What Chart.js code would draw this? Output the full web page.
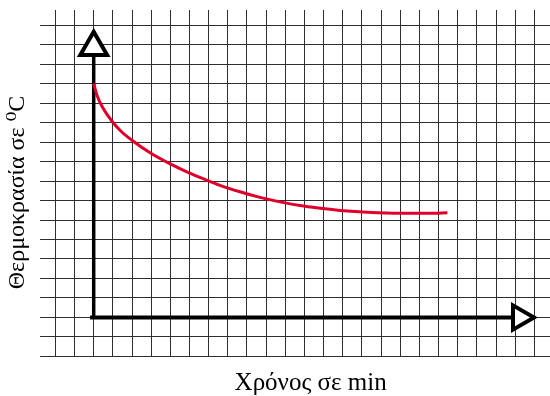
<!DOCTYPE html>
<html>
<head>
<meta charset="utf-8">
<script src="https://cdn.jsdelivr.net/npm/chart.js@4"></script>
<style>
  html, body { margin: 0; padding: 0; background: #ffffff; }
  #wrap { width: 550px; height: 396px; }
</style>
</head>
<body>
<div id="wrap"><canvas id="c" width="550" height="396"></canvas></div>
<script>
// Curve (in grid units: 1 unit = one grid square)
const timeValues = [0, 0.17, 0.485, 1.007, 1.44, 2.01, 3.006, 4.05, 4.92, 5.88, 6.59, 7.63, 8.68, 9.72, 10.76, 11.72, 12.86, 14.07, 15.99, 17.55, 18.46];
const tempValues = [12.0, 11.4, 10.74, 10.0, 9.54, 9.08, 8.41, 7.85, 7.44, 7.05, 6.78, 6.45, 6.16, 5.93, 5.74, 5.61, 5.49, 5.41, 5.34, 5.34, 5.37];

// Axis lines and arrow heads
const xAxisLineX = [-0.19, 21.8];
const xAxisLineY = [0, 0];
const yAxisLineX = [0, 0];
const yAxisLineY = [0, 13.4];
const arrowX = [0, 22.25];
const arrowY = [13.86, 0];
const arrowRotation = [0, 90];

const xLabel = "\u00A0\u00A0\u00A0\u00A0\u00A0Χρόνος σε min";
const yLabel = "Θερμοκρασία σε \u2070C\u00A0\u00A0\u00A0";

const xRange = [-2.803, 23.815];
const yRange = [-2.026, 15.77];

function pts(xs, ys) { return xs.map((x, i) => ({ x: x, y: ys[i] })); }

const fontFamily = "'Liberation Serif', 'DejaVu Serif', serif";

new Chart(document.getElementById('c'), {
  type: 'scatter',
  data: {
    datasets: [
      {
        data: pts(arrowX, arrowY),
        showLine: false,
        pointStyle: 'triangle',
        pointRotation: arrowRotation,
        pointRadius: [15.5, 14],
        pointHoverRadius: [15.5, 14],
        pointBackgroundColor: '#ffffff',
        pointBorderColor: '#000000',
        pointBorderWidth: 4,
        clip: false
      },
      {
        data: pts(timeValues, tempValues),
        showLine: true,
        borderColor: '#e0002b',
        borderWidth: 3,
        pointRadius: 0,
        cubicInterpolationMode: 'monotone',
        fill: false
      },
      {
        data: pts(xAxisLineX, xAxisLineY),
        showLine: true,
        borderColor: '#000000',
        borderWidth: 4,
        pointRadius: 0,
        borderCapStyle: 'butt'
      },
      {
        data: pts(yAxisLineX, yAxisLineY),
        showLine: true,
        borderColor: '#000000',
        borderWidth: 3.5,
        pointRadius: 0,
        borderCapStyle: 'butt'
      }
    ]
  },
  options: {
    responsive: false,
    animation: false,
    events: [],
    layout: { autoPadding: false, padding: { left: 0, right: 0, top: 10, bottom: 0 } },
    plugins: { legend: { display: false }, tooltip: { enabled: false }, title: { display: false } },
    scales: {
      x: {
        type: 'linear',
        min: xRange[0],
        max: xRange[1],
        border: { display: false },
        grid: { color: '#2e2e2e', lineWidth: 1, drawTicks: false },
        ticks: { display: false, stepSize: 1, includeBounds: false },
        title: {
          display: true,
          text: xLabel,
          color: '#000000',
          font: { family: fontFamily, size: 25, lineHeight: 1 },
          padding: { top: 14, bottom: 0 }
        }
      },
      y: {
        type: 'linear',
        min: yRange[0],
        max: yRange[1],
        border: { display: false },
        grid: { color: '#2e2e2e', lineWidth: 1, drawTicks: false },
        ticks: { display: false, stepSize: 1, includeBounds: false },
        title: {
          display: true,
          text: yLabel,
          color: '#000000',
          font: { family: fontFamily, size: 24, lineHeight: 1.2 },
          padding: { top: 3.6, bottom: 7.6 }
        }
      }
    }
  }
});
</script>
</body>
</html>
